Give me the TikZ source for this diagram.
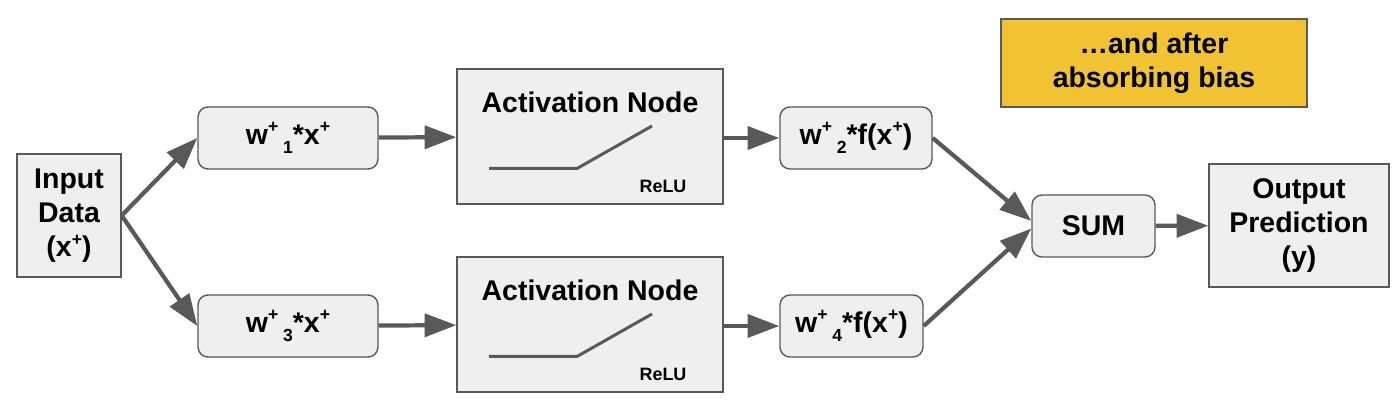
\documentclass[tikz,border=0pt]{standalone}
\usepackage{fontspec}
\setmainfont{Liberation Sans}
\usepackage{xcolor}
\usepackage{tikz}
\usetikzlibrary{arrows.meta, positioning, calc}
\definecolor{nnfill}{HTML}{EFEFEF}
\definecolor{nnline}{HTML}{595959}
\definecolor{nnyellow}{HTML}{F1C232}
\newcommand{\nnfont}{\fontsize{16.2}{19.5}\selectfont\bfseries}
\newcommand{\nnsmall}{\fontsize{10.2}{12}\selectfont\bfseries}
\newcommand{\nnsup}[1]{\raisebox{0.75ex}{\fontsize{10}{12}\selectfont #1}}
\newcommand{\nnsub}[1]{\,\raisebox{-0.6ex}{\fontsize{10}{12}\selectfont #1}}

\begin{document}
\begin{tikzpicture}[x=1cm, y=1cm,
  nnbox/.style={draw=nnline, fill=nnfill, line width=0.8pt, align=center,
    font=\nnfont, inner sep=0pt},
  nnround/.style={nnbox, rounded corners=0.2cm},
  nnarrow/.style={draw=nnline, line width=2.4pt,
    -{Triangle[length=18pt, width=13pt]}}]
\useasboundingbox (0,0) rectangle (28,8.18);

% input / output
\node[nnbox, minimum width=2.08cm, minimum height=2.46cm] (input) at (1.38,3.87)
  {Input\\Data\\(x\nnsup{+})};
\node[nnbox, minimum width=3.6cm, minimum height=2.46cm] (output) at (25.98,3.67)
  {Output\\Prediction\\(y)};

% weights
\node[nnround, minimum width=3.6cm, minimum height=1.24cm] (w1) at (5.76,5.42)
  {w\nnsup{+}\nnsub{1}*x\nnsup{+}};
\node[nnround, minimum width=3.6cm, minimum height=1.24cm] (w3) at (5.76,1.66)
  {w\nnsup{+}\nnsub{3}*x\nnsup{+}};
\node[nnround, minimum width=3.04cm, minimum height=1.24cm] (w2) at (17.12,5.42)
  {w\nnsup{+}\nnsub{2}*f(x\nnsup{+})};
\node[nnround, minimum width=2.86cm, minimum height=1.24cm] (w4) at (17.03,1.66)
  {w\nnsup{+}\nnsub{4}*f(x\nnsup{+})};

% activation nodes
\node[nnbox, minimum width=5.32cm, minimum height=2.7cm] (act1) at (11.8,5.45) {};
\node[nnbox, minimum width=5.32cm, minimum height=2.7cm] (act2) at (11.8,1.69) {};
\foreach \act in {act1, act2}{
  \node[font=\nnfont] (\act title) at ($(\act)+(0,0.68)$) {Activation Node};
  \draw[nnline, line width=1.7pt]
    ($(\act)+(-2.02,-0.64)$) -- ($(\act)+(-0.26,-0.64)$) -- ($(\act)+(1.24,0.21)$);
  \node[font=\nnsmall] (\act relu) at ($(\act)+(1.46,-1.0)$) {ReLU};
}

% sum
\node[nnround, minimum width=2.46cm, minimum height=1.24cm] (sum) at (21.87,3.66) {SUM};

% note
\node[nnbox, fill=nnyellow, minimum width=6.12cm, minimum height=1.76cm] (note)
  at (23.08,6.92) {…and after\\absorbing bias};

% connectors
\draw[nnarrow] (input.east) -- (w1.west);
\draw[nnarrow] (input.east) -- (w3.west);
\draw[nnarrow] (w1) -- (act1);
\draw[nnarrow] (w3) -- (act2);
\draw[nnarrow] (act1.east |- w2) -- (w2);
\draw[nnarrow] (act2.east |- w4) -- (w4);
\draw[nnarrow] (w2.east) -- ($(sum.west)+(0,0.1)$);
\draw[nnarrow] (w4.east) -- ($(sum.west)+(0,-0.05)$);
\draw[nnarrow] (sum) -- (output);
\end{tikzpicture}
\end{document}
